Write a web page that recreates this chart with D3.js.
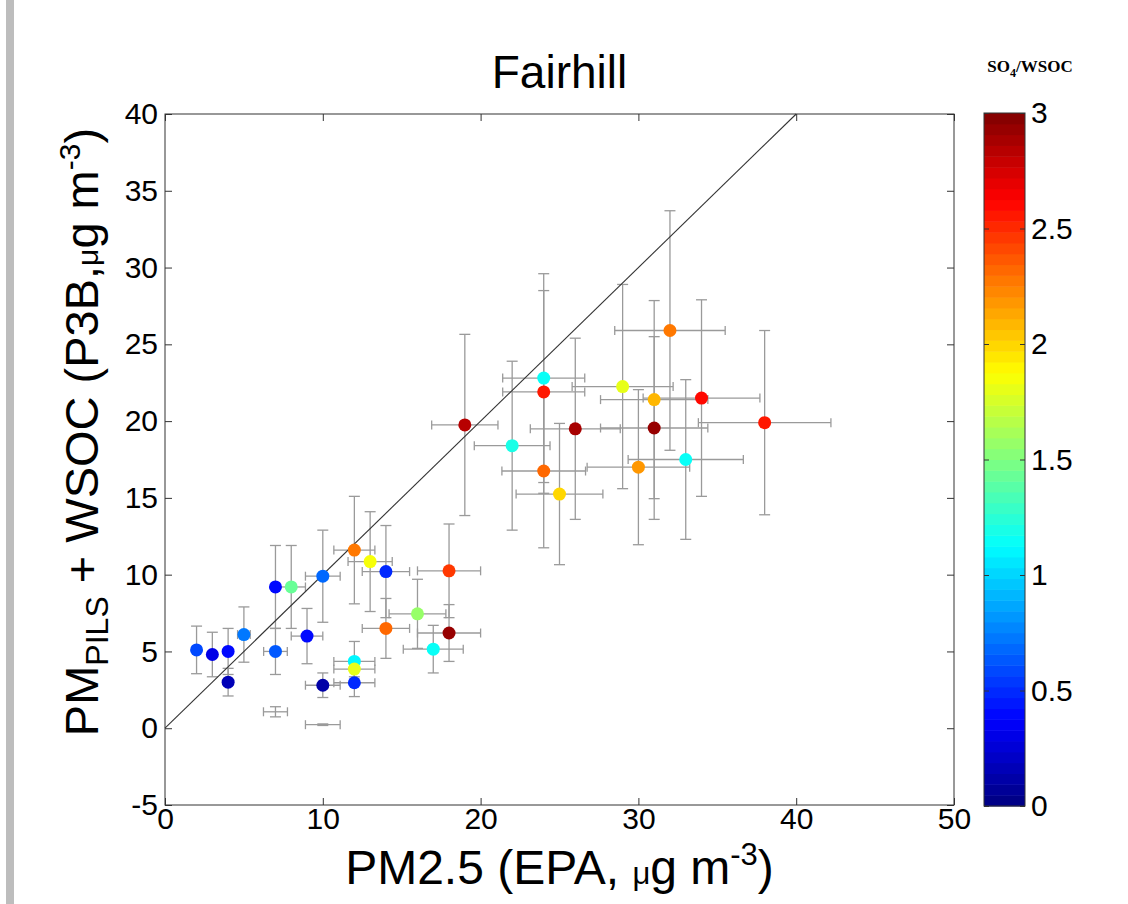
<!DOCTYPE html>
<html lang="en">
<head>
<meta charset="UTF-8"/>
<title>Fairhill</title>
<script src="https://d3js.org/d3.v7.min.js"></script>
<style>
  html, body { margin: 0; padding: 0; background: #fff; }
  text { font-family: "Liberation Sans", Arial, sans-serif; fill: #000; }
</style>
</head>
<body>
<script>
// PM2.5 from EPA (x) and PILS + WSOC (y), with error bars
var pmEpa  = [2, 3, 4, 4, 5, 7, 7, 8, 9, 10, 10, 12, 12, 12, 12, 13, 14, 14, 16, 17, 18, 18, 19,
              22, 24, 24, 24, 25, 26, 29, 30, 31, 31, 32, 33, 34, 38, 7, 10];
var pmPils = [5.1, 4.8, 5.0, 3.0, 6.1, 5.0, 9.2, 9.2, 6.0, 9.9, 2.8, 11.6, 4.35, 3.85, 2.96, 10.85, 10.2, 6.5, 7.45, 5.15, 10.25, 6.2, 19.75,
              18.4, 22.8, 21.9, 16.75, 15.25, 19.5, 22.25, 17.0, 21.4, 19.55, 25.9, 17.5, 21.5, 19.9, 1.07, 0.23];
var xErr   = [0, 0, 0, 0, 0.4, 0.75, 0, 0.9, 1.0, 1.1, 1.1, 1.3, 1.3, 1.3, 1.3, 1.4, 1.5, 1.5, 1.8, 1.9, 2.0, 2.0, 2.1,
              2.4, 2.6, 2.6, 2.65, 2.75, 2.85, 3.2, 3.25, 3.4, 3.4, 3.5, 3.65, 3.7, 4.2, 0.76, 1.1];
var yErr   = [1.55, 1.45, 1.5, 0.9, 1.8, 1.5, 2.7, 2.7, 1.8, 3.0, 0.8, 3.5, 1.3, 0.5, 0.9, 3.25, 3.0, 1.95, 2.25, 1.55, 3.05, 1.85, 5.9,
              5.5, 6.8, 6.6, 5.0, 4.6, 5.9, 6.65, 5.05, 6.45, 5.95, 7.8, 5.2, 6.4, 6.0, 0.33, 0.05];
// SO4/WSOC ratio (colour); null = no marker drawn
var ratio  = [0.6, 0.3, 0.42, 0.15, 0.72, 0.65, 0.38, 1.43, 0.38, 0.68, 0.12, 2.27, 1.1, 1.8, 0.5, 1.83, 0.5, 2.34, 1.55, 1.13, 2.48, 2.92, 2.85,
              1.2, 1.15, 2.55, 2.3, 2.0, 2.9, 1.8, 2.17, 2.07, 2.95, 2.27, 1.15, 2.62, 2.55, null, null];

var xTicks  = [0, 10, 20, 30, 40, 50];
var yTicks  = [-5, 0, 5, 10, 15, 20, 25, 30, 35, 40];
var cbTicks = [0, 0.5, 1, 1.5, 2, 2.5, 3];
var oneToOne = [0, 40];

var w = 1128, h = 904;
var axL = 165, axR = 954, axT = 114, axB = 805;

// MATLAB jet, 64 levels
function jet(t) {
    t = Math.max(0, Math.min(1, t));
    t = (Math.min(63, Math.floor(t * 64)) + 0.5) / 64;
    function c(v) { return Math.round(255 * Math.max(0, Math.min(1, v))); }
    var r = 1.5 - Math.abs(4 * t - 3);
    var g = 1.5 - Math.abs(4 * t - 2);
    var b = 1.5 - Math.abs(4 * t - 1);
    return "rgb(" + c(r) + "," + c(g) + "," + c(b) + ")";
}

var data = pmEpa.map(function(d, i) {
    return {x: d, y: pmPils[i], xe: xErr[i], ye: yErr[i], c: ratio[i]};
});

var xScale = d3.scaleLinear().domain([0, 50]).range([axL, axR]);
var yScale = d3.scaleLinear().domain([-5, 40]).range([axB, axT]);
var cScale = d3.scaleLinear().domain([0, 3]).range([806, 113]);

var plain = function(d) { return String(d); };

var svg = d3.select("body").append("svg")
    .attr("width", w)
    .attr("height", h);

svg.append("rect").attr("width", w).attr("height", h).attr("fill", "#fff");
// grey strip at the left edge
svg.append("rect").attr("x", 6).attr("y", 0).attr("width", 8).attr("height", h).attr("fill", "#bdbdbd");

// axes box
svg.append("rect")
    .attr("x", axL).attr("y", axT)
    .attr("width", axR - axL).attr("height", axB - axT)
    .attr("fill", "none").attr("stroke", "#333").attr("stroke-width", 1);

function styleAxis(g) {
    g.select(".domain").remove();
    g.selectAll(".tick line").attr("stroke", "#333");
    g.selectAll(".tick text").style("font-size", "30px").attr("fill", "#000");
}

svg.append("g")
    .attr("transform", "translate(0," + axB + ")")
    .call(d3.axisBottom(xScale).tickValues(xTicks).tickSizeInner(-7).tickSizeOuter(0).tickPadding(3).tickFormat(plain))
    .call(styleAxis);
svg.append("g")
    .attr("transform", "translate(0," + axT + ")")
    .call(d3.axisTop(xScale).tickValues(xTicks).tickSizeInner(-7).tickSizeOuter(0).tickFormat(""))
    .call(styleAxis);
svg.append("g")
    .attr("transform", "translate(" + axL + ",0)")
    .call(d3.axisLeft(yScale).tickValues(yTicks).tickSizeInner(-7).tickSizeOuter(0).tickPadding(7).tickFormat(plain))
    .call(styleAxis);
svg.append("g")
    .attr("transform", "translate(" + axR + ",0)")
    .call(d3.axisRight(yScale).tickValues(yTicks).tickSizeInner(-7).tickSizeOuter(0).tickFormat(""))
    .call(styleAxis);

// error bars
var eb = svg.append("g").attr("stroke", "#9a9a9a").attr("stroke-width", 1.3).attr("fill", "none");
var cap = 5.5;
data.forEach(function(d) {
    var cx = xScale(d.x), cy = yScale(d.y);
    var y0 = yScale(d.y - d.ye), y1 = yScale(d.y + d.ye);
    eb.append("line").attr("x1", cx).attr("x2", cx).attr("y1", y0).attr("y2", y1);
    eb.append("line").attr("x1", cx - cap).attr("x2", cx + cap).attr("y1", y0).attr("y2", y0);
    eb.append("line").attr("x1", cx - cap).attr("x2", cx + cap).attr("y1", y1).attr("y2", y1);
    if (d.xe > 0) {
        var x0 = xScale(d.x - d.xe), x1 = xScale(d.x + d.xe);
        eb.append("line").attr("x1", x0).attr("x2", x1).attr("y1", cy).attr("y2", cy);
        eb.append("line").attr("x1", x0).attr("x2", x0).attr("y1", cy - 4.5).attr("y2", cy + 4.5);
        eb.append("line").attr("x1", x1).attr("x2", x1).attr("y1", cy - 4.5).attr("y2", cy + 4.5);
    }
});

// 1:1 line
svg.append("line")
    .attr("x1", xScale(oneToOne[0])).attr("y1", yScale(oneToOne[0]))
    .attr("x2", xScale(oneToOne[1])).attr("y2", yScale(oneToOne[1]))
    .attr("stroke", "#333").attr("stroke-width", 1.1);

// markers
svg.selectAll("circle.pt")
    .data(data.filter(function(d) { return d.c !== null; }))
    .enter()
    .append("circle")
    .attr("class", "pt")
    .attr("cx", function(d) { return xScale(d.x); })
    .attr("cy", function(d) { return yScale(d.y); })
    .attr("r", 6.5)
    .attr("fill", function(d) { return jet(d.c / 3); });

// title
svg.append("text")
    .attr("x", (axL + axR) / 2).attr("y", 88)
    .attr("text-anchor", "middle")
    .style("font-size", "46px")
    .text("Fairhill");

// x label
var xl = svg.append("text")
    .attr("x", (axL + axR) / 2).attr("y", 884)
    .attr("text-anchor", "middle")
    .style("font-size", "48px");
xl.append("tspan").text("PM2.5 (EPA, ");
xl.append("tspan").style("font-size", "31px").text("\u03bc");
xl.append("tspan").text("g m");
xl.append("tspan").attr("dy", -19).style("font-size", "31px").text("-3");
xl.append("tspan").attr("dy", 19).text(")");

// y label
var yl = svg.append("text")
    .attr("transform", "translate(98," + 432 + ") rotate(-90)")
    .attr("text-anchor", "middle")
    .style("font-size", "47px");
yl.append("tspan").text("PM");
yl.append("tspan").attr("dy", 10).style("font-size", "32px").text("PILS");
yl.append("tspan").attr("dy", -10).text(" + WSOC (P3B,");
yl.append("tspan").style("font-size", "30px").text("\u03bc");
yl.append("tspan").text("g m");
yl.append("tspan").attr("dy", -18).style("font-size", "30px").text("-3");
yl.append("tspan").attr("dy", 18).text(")");

// colorbar
var cbX = 984, cbW = 41;
var levels = d3.range(64);
svg.append("g").selectAll("rect")
    .data(levels)
    .enter()
    .append("rect")
    .attr("x", cbX)
    .attr("y", function(i) { return cScale((i + 1) * 3 / 64); })
    .attr("width", cbW)
    .attr("height", function(i) { return cScale(i * 3 / 64) - cScale((i + 1) * 3 / 64) + 0.5; })
    .attr("fill", function(i) { return jet((i + 0.5) / 64); });
svg.append("rect")
    .attr("x", cbX).attr("y", cScale(3))
    .attr("width", cbW).attr("height", cScale(0) - cScale(3))
    .attr("fill", "none").attr("stroke", "#333").attr("stroke-width", 1);

svg.append("g")
    .attr("transform", "translate(" + (cbX + cbW) + ",0)")
    .call(d3.axisRight(cScale).tickValues(cbTicks).tickSizeInner(-5).tickSizeOuter(0).tickPadding(6).tickFormat(plain))
    .call(styleAxis);
svg.append("g")
    .attr("transform", "translate(" + cbX + ",0)")
    .call(d3.axisLeft(cScale).tickValues(cbTicks).tickSizeInner(-5).tickSizeOuter(0).tickFormat(""))
    .call(styleAxis);

var cbl = svg.append("text")
    .attr("x", 1030).attr("y", 72)
    .attr("text-anchor", "middle")
    .style("font-family", "'Liberation Serif', 'Times New Roman', serif")
    .style("font-weight", "bold")
    .style("font-size", "17px");
cbl.append("tspan").text("SO");
cbl.append("tspan").attr("dy", 5).style("font-size", "12px").text("4");
cbl.append("tspan").attr("dy", -5).text("/WSOC");
</script>
</body>
</html>
